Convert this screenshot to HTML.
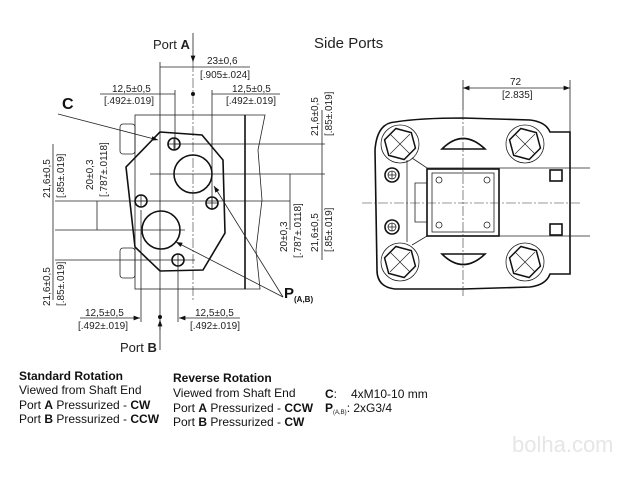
<!DOCTYPE html>
<html><head><meta charset="utf-8"><style>
html,body{margin:0;padding:0;background:#fff}
svg{display:block;font-family:"Liberation Sans",Arial,sans-serif}
.t{font-size:10px;fill:#222}
.l{stroke:#222;stroke-width:0.8;fill:none}
.k{stroke:#111;stroke-width:1.6;fill:none}
.c{stroke:#333;stroke-width:0.6;fill:none;stroke-dasharray:10 2 2 2}
.b{font-size:12px;fill:#111}
</style></head><body>
<svg width="640" height="480" viewBox="0 0 640 480">
<defs>
<marker id="a" markerWidth="8" markerHeight="6" refX="8" refY="3" orient="auto"><path d="M0,0 L8,3 L0,6z" fill="#111"/></marker>
<marker id="s" markerWidth="8" markerHeight="6" refX="0" refY="3" orient="auto"><path d="M8,0 L0,3 L8,6z" fill="#111"/></marker>
<g id="bolt">
<circle r="19" stroke="#222" stroke-width="0.8" fill="none"/>
<polygon points="16,0 8,13.9 -8,13.9 -16,0 -8,-13.9 8,-13.9" stroke="#111" stroke-width="1.5" fill="none" transform="rotate(15)"/>
<path d="M-10,-10 L10,10 M10,-10 L-10,10" stroke="#222" stroke-width="0.7"/>
</g>
</defs>
<!-- LEFT VIEW -->
<text x="153" y="49" font-size="13" fill="#222">Port <tspan font-weight="bold">A</tspan></text>
<line x1="193" y1="33" x2="193" y2="62" class="l" marker-end="url(#a)"/>
<line x1="193" y1="62" x2="193" y2="300" class="c"/>
<line x1="160" y1="62" x2="160" y2="330" class="l"/>
<line x1="160" y1="67" x2="250" y2="67" class="l"/>
<text x="207" y="64" class="t">23±0,6</text>
<text x="200" y="78" class="t">[.905±.024]</text>
<circle cx="193" cy="94" r="2" fill="#111"/>
<circle cx="160" cy="317" r="2" fill="#111"/>
<text x="112" y="92" class="t">12,5±0,5</text><text x="104" y="104" class="t">[.492±.019]</text>
<line x1="100" y1="94" x2="175" y2="94" class="l"/>
<line x1="175" y1="90" x2="175" y2="150" class="l"/>
<text x="232" y="92" class="t">12,5±0,5</text><text x="226" y="104" class="t">[.492±.019]</text>
<line x1="212" y1="94" x2="280" y2="94" class="l"/>
<line x1="212" y1="90" x2="212" y2="210" class="l"/>
<text x="62" y="109" font-size="16" font-weight="bold" fill="#111">C</text>
<line x1="58" y1="114" x2="158" y2="140" class="l" marker-end="url(#a)"/>
<!-- housing -->
<rect x="135" y="115" width="110" height="174" class="l"/>
<line x1="245" y1="115" x2="245" y2="289" class="k"/>
<path d="M245,115 L265,115 L258,150 L262,200 L256,250 L260,289 L245,289" class="l"/>
<rect x="120" y="124" width="15" height="30" rx="3" class="l"/>
<rect x="120" y="248" width="15" height="30" rx="3" class="l"/>
<path d="M160,132 L202,135 L223,160 L225,233 L203,270 L160,271 L135,247 L126,167 Z" class="k" fill="#fff"/>
<circle cx="193" cy="174" r="19" class="k"/>
<circle cx="161" cy="230" r="19" class="k"/>
<circle cx="174" cy="144" r="6" class="k"/><circle cx="141" cy="201" r="6" class="k"/>
<circle cx="212" cy="203" r="6" class="k"/><circle cx="178" cy="260" r="6" class="k"/>
<path d="M168,144 H180 M174,138 V150 M135,201 H147 M141,195 V207 M206,203 H218 M212,197 V209 M172,260 H184 M178,254 V266" class="l"/>
<line x1="150" y1="174" x2="325" y2="174" class="l"/>
<line x1="55" y1="230" x2="185" y2="230" class="l"/>
<line x1="55" y1="201" x2="290" y2="201" class="l"/>
<line x1="174" y1="144" x2="325" y2="144" class="l"/>
<line x1="55" y1="260" x2="195" y2="260" class="l"/>
<line x1="53" y1="144" x2="53" y2="300" class="l"/>
<line x1="97" y1="201" x2="97" y2="230" class="l"/>
<line x1="290" y1="174" x2="290" y2="230" class="l"/>
<line x1="322" y1="110" x2="322" y2="260" class="l"/>
<g class="t">
<text transform="translate(50,198) rotate(-90)">21,6±0,5</text>
<text transform="translate(64,198) rotate(-90)">[.85±.019]</text>
<text transform="translate(93,190) rotate(-90)">20±0,3</text>
<text transform="translate(107,197) rotate(-90)">[.787±.0118]</text>
<text transform="translate(50,306) rotate(-90)">21,6±0,5</text>
<text transform="translate(64,306) rotate(-90)">[.85±.019]</text>
<text transform="translate(318,136) rotate(-90)">21,6±0,5</text>
<text transform="translate(332,136) rotate(-90)">[.85±.019]</text>
<text transform="translate(287,252) rotate(-90)">20±0,3</text>
<text transform="translate(301,258) rotate(-90)">[.787±.0118]</text>
<text transform="translate(318,252) rotate(-90)">21,6±0,5</text>
<text transform="translate(332,252) rotate(-90)">[.85±.019]</text>
</g>
<text x="284" y="298" font-size="15" font-weight="bold" fill="#111">P<tspan font-size="8" dy="4">(A,B)</tspan></text>
<line x1="283" y1="297" x2="176" y2="242" class="l" marker-end="url(#a)"/>
<line x1="283" y1="297" x2="214" y2="186" class="l" marker-end="url(#a)"/>
<text x="85" y="316" class="t">12,5±0,5</text><text x="78" y="329" class="t">[.492±.019]</text>
<line x1="80" y1="318" x2="140" y2="318" class="l" marker-end="url(#a)"/>
<line x1="141" y1="210" x2="141" y2="322" class="l"/>
<text x="195" y="316" class="t">12,5±0,5</text><text x="190" y="329" class="t">[.492±.019]</text>
<line x1="240" y1="318" x2="179" y2="318" class="l" marker-end="url(#a)"/>
<line x1="178" y1="266" x2="178" y2="322" class="l"/>
<line x1="160" y1="350" x2="160" y2="320" class="l" marker-end="url(#a)"/>
<text x="120" y="352" font-size="13" fill="#222">Port <tspan font-weight="bold">B</tspan></text>
<!-- RIGHT VIEW -->
<text x="314" y="48" font-size="15" fill="#222">Side Ports</text>
<line x1="463" y1="88" x2="570" y2="88" class="l" marker-start="url(#s)" marker-end="url(#a)"/>
<line x1="463" y1="80" x2="463" y2="110" class="l"/>
<text x="510" y="85" class="t">72</text>
<text x="502" y="98" class="t">[2.835]</text>
<line x1="570" y1="80" x2="570" y2="132" class="l"/>
<path d="M395,122 Q420,118 463,118 L530,120 Q546,122 550,132 L570,132 L570,274 L550,274 Q546,285 530,287 L463,289 L395,289 Q377,287 377,270 L375,150 Q377,123 395,122 Z" class="k"/>
<use href="#bolt" x="400" y="144"/><use href="#bolt" x="525" y="144"/>
<use href="#bolt" x="400" y="262"/><use href="#bolt" x="525" y="262"/>
<g class="k">
<circle cx="392" cy="175" r="7"/><circle cx="392" cy="227" r="7"/>
<path d="M442,149 Q463,128 485,149 Z"/>
<path d="M442,254 Q463,275 485,254 Z"/>
</g>
<g class="l">
<circle cx="392" cy="175" r="4"/><circle cx="392" cy="227" r="4"/>
<path d="M388,175 L396,175 M392,171 L392,179 M388,227 L396,227 M392,223 L392,231"/>
<line x1="407" y1="160" x2="407" y2="242"/>
<path d="M412,158 L427,168 L570,168 M412,245 L427,236 L570,236"/>
<path d="M427,168 L427,183 L415,183 L415,222 L427,222 L427,236"/>
<line x1="570" y1="168" x2="590" y2="168"/><line x1="570" y1="236" x2="590" y2="236"/>
</g>
<rect x="427" y="169" width="72" height="67" class="k"/>
<rect x="432" y="173" width="62" height="59" class="l"/>
<g class="l"><circle cx="439" cy="180" r="3"/><circle cx="487" cy="180" r="3"/><circle cx="439" cy="225" r="3"/><circle cx="487" cy="225" r="3"/></g>
<rect x="550" y="170" width="12" height="11" class="k"/>
<rect x="550" y="224" width="12" height="11" class="k"/>
<line x1="463" y1="110" x2="463" y2="296" class="c"/>
<line x1="362" y1="203" x2="580" y2="203" class="c"/>
<!-- bottom text -->
<g class="b">
<text x="19" y="380" font-weight="bold">Standard Rotation</text>
<text x="19" y="394">Viewed from Shaft End</text>
<text x="19" y="409">Port <tspan font-weight="bold">A</tspan> Pressurized - <tspan font-weight="bold">CW</tspan></text>
<text x="19" y="423">Port <tspan font-weight="bold">B</tspan> Pressurized - <tspan font-weight="bold">CCW</tspan></text>
<text x="173" y="382" font-weight="bold">Reverse Rotation</text>
<text x="173" y="397">Viewed from Shaft End</text>
<text x="173" y="412">Port <tspan font-weight="bold">A</tspan> Pressurized - <tspan font-weight="bold">CCW</tspan></text>
<text x="173" y="426">Port <tspan font-weight="bold">B</tspan> Pressurized - <tspan font-weight="bold">CW</tspan></text>
<text x="325" y="398"><tspan font-weight="bold">C</tspan>:</text>
<text x="351" y="398">4xM10-10 mm</text>
<text x="325" y="412"><tspan font-weight="bold">P</tspan><tspan font-size="6" dy="2">(A,B)</tspan><tspan dy="-2">: 2xG3/4</tspan></text>
</g>
<text x="512" y="452" font-size="22" fill="#e6e6e6">bolha.com</text>
</svg>
</body></html>
